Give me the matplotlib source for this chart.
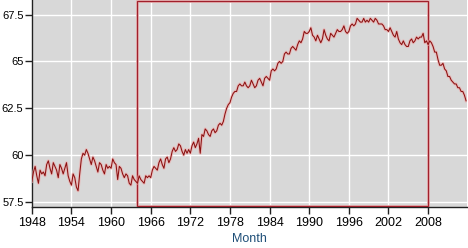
import numpy as np
import matplotlib
matplotlib.use("Agg")
import matplotlib.pyplot as plt
from matplotlib.ticker import FuncFormatter

plt.rcParams['font.family'] = ['Liberation Sans', 'DejaVu Sans']

# civilian labor force participation rate, quarterly readings (percent)
years = list(range(1948, 2014))
rate = [
    [58.6, 59.1, 59.4, 58.9], [58.5, 59.2, 59.0, 59.1],  # 1948-49
    [58.9, 59.5, 59.7, 59.3], [59.0, 59.6, 59.4, 59.2],  # 1950-51
    [58.8, 59.5, 59.3, 59.0], [59.3, 59.6, 58.9, 58.6],  # 1952-53
    [58.4, 59.0, 58.8, 58.3], [58.1, 59.0, 59.8, 60.1],  # 1954-55
    [60.0, 60.3, 60.1, 59.8], [59.5, 59.9, 59.7, 59.4],  # 1956-57
    [59.1, 59.6, 59.5, 59.2], [59.0, 59.5, 59.3, 59.4],  # 1958-59
    [59.3, 59.8, 59.6, 59.5], [58.7, 59.4, 59.3, 59.0],  # 1960-61
    [58.8, 59.0, 58.9, 58.5], [58.4, 58.9, 58.7, 58.6],  # 1962-63
    [58.5, 58.9, 58.7, 58.6], [58.5, 58.9, 58.8, 58.9],  # 1964-65
    [58.8, 59.2, 59.4, 59.3], [59.2, 59.6, 59.8, 59.5],  # 1966-67
    [59.3, 59.8, 59.9, 59.6], [59.8, 60.2, 60.4, 60.2],  # 1968-69
    [60.3, 60.6, 60.5, 60.2], [60.0, 60.3, 60.1, 60.3],  # 1970-71
    [60.1, 60.5, 60.7, 60.4], [60.6, 60.9, 60.1, 61.1],  # 1972-73
    [61.0, 61.4, 61.3, 61.1], [61.0, 61.3, 61.4, 61.2],  # 1974-75
    [61.3, 61.6, 61.7, 61.6], [61.8, 62.2, 62.5, 62.7],  # 1976-77
    [62.8, 63.1, 63.3, 63.4], [63.4, 63.7, 63.8, 63.7],  # 1978-79
    [63.7, 63.9, 63.7, 63.6], [63.7, 64.0, 63.8, 63.6],  # 1980-81
    [63.7, 64.0, 64.1, 63.9], [63.7, 64.1, 64.2, 64.1],  # 1982-83
    [64.0, 64.5, 64.6, 64.5], [64.6, 64.9, 65.0, 64.9],  # 1984-85
    [65.0, 65.4, 65.5, 65.4], [65.4, 65.7, 65.8, 65.7],  # 1986-87
    [65.6, 65.9, 66.1, 66.0], [66.2, 66.6, 66.5, 66.5],  # 1988-89
    [66.6, 66.8, 66.4, 66.3], [66.1, 66.4, 66.2, 66.0],  # 1990-91
    [66.2, 66.7, 66.4, 66.2], [66.1, 66.5, 66.4, 66.3],  # 1992-93
    [66.5, 66.7, 66.6, 66.6], [66.7, 66.9, 66.6, 66.5],  # 1994-95
    [66.6, 66.9, 67.0, 66.9], [67.0, 67.3, 67.2, 67.1],  # 1996-97
    [67.1, 67.3, 67.1, 67.2], [67.1, 67.3, 67.2, 67.1],  # 1998-99
    [67.3, 67.2, 67.0, 67.0], [67.0, 66.9, 66.7, 66.7],  # 2000-01
    [66.6, 66.8, 66.6, 66.4], [66.3, 66.6, 66.2, 66.0],  # 2002-03
    [65.9, 66.1, 65.9, 65.8], [65.8, 66.1, 66.2, 66.0],  # 2004-05
    [66.1, 66.3, 66.2, 66.3], [66.3, 66.5, 66.0, 66.1],  # 2006-07
    [65.9, 66.1, 66.0, 65.8], [65.5, 65.5, 65.1, 64.8],  # 2008-09
    [64.8, 64.9, 64.6, 64.5], [64.2, 64.2, 64.0, 63.9],  # 2010-11
    [63.8, 63.8, 63.6, 63.6], [63.4, 63.4, 63.2, 62.9],  # 2012-13
]
span_start, span_end = 1964, 2008
x_ticks = list(range(1948, 2009, 6))
y_ticks = [57.5, 60, 62.5, 65, 67.5]

t = np.array([y + q * 0.25 for y in years for q in range(4)])
v = np.array(rate).ravel()

fig = plt.figure(figsize=(4.68, 2.48), dpi=100)
ax = fig.add_axes([0.068, 0.165, 0.93, 0.835])
ax.set_facecolor('#d8d8d8')

ax.grid(True, color='white', lw=1.0)
ax.set_axisbelow(True)

# highlighted period
ax.axvspan(span_start, span_end, ymin=0.004, ymax=0.996, fill=False,
           edgecolor='#e8b4b4', lw=2.0, zorder=2)
ax.axvspan(span_start, span_end, ymin=0.004, ymax=0.996, fill=False,
           edgecolor='#a0202c', lw=0.9, zorder=3)

ax.plot(t, v, color='#f0a8a8', lw=2.2, alpha=0.6, zorder=4)
ax.plot(t, v, color='#8b1010', lw=0.75, zorder=5)

ax.set_xlim(1948, 2013.9)
ax.set_ylim(57.23, 68.28)
ax.set_xticks(x_ticks)
ax.set_yticks(y_ticks)
ax.yaxis.set_major_formatter(FuncFormatter(lambda val, pos: f'{val:g}'))
ax.tick_params(axis='x', labelsize=9, length=5, width=1, color='#222222', pad=2)
ax.tick_params(axis='y', labelsize=8, length=5, width=1, color='#222222', pad=1)

for side in ['top', 'right']:
    ax.spines[side].set_visible(False)
for side in ['left', 'bottom']:
    ax.spines[side].set_color('#222222')
    ax.spines[side].set_linewidth(1.0)

ax.set_xlabel('Month', fontsize=9, color='#1f4f78', labelpad=3)

fig.savefig('out.png', dpi=100)
